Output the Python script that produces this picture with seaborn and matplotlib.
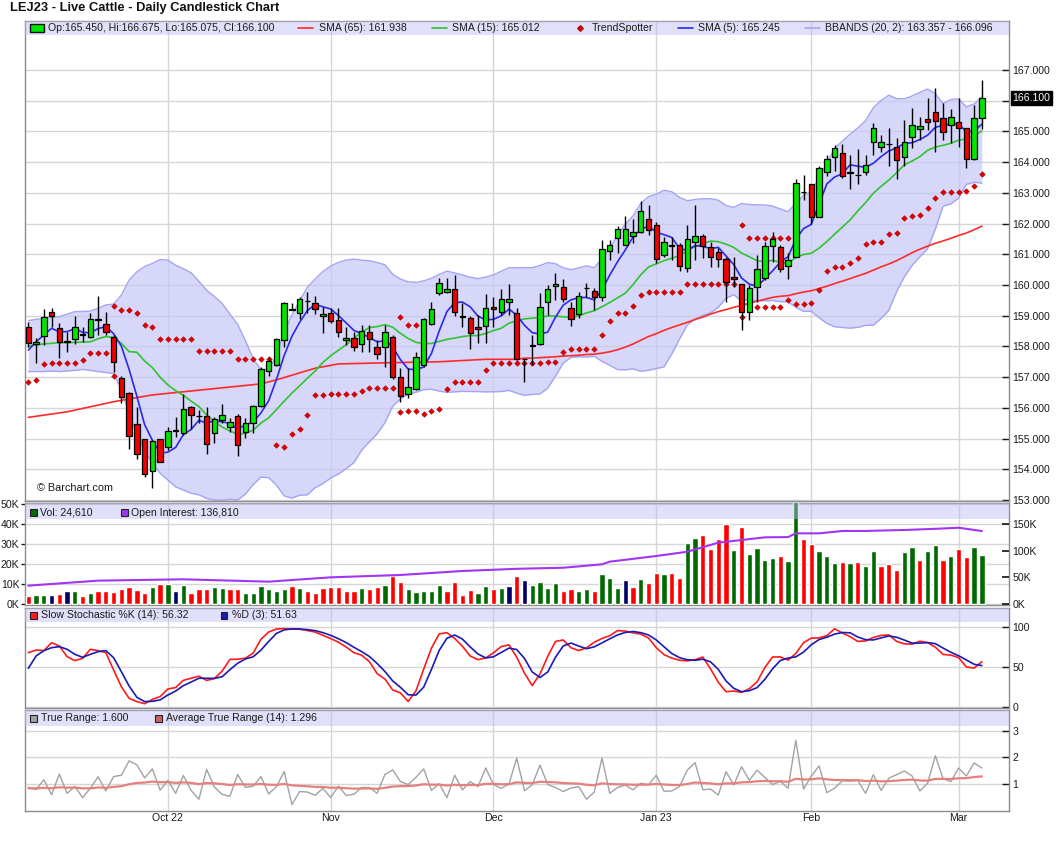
import numpy as np
import pandas as pd
import matplotlib
matplotlib.use("Agg")
import matplotlib.pyplot as plt
from matplotlib.patches import Rectangle
from matplotlib.lines import Line2D
from matplotlib.ticker import FuncFormatter
import seaborn as sns

# ------------------------------------------------------------------ data
month_bars = [19, 40, 61, 82, 102, 121]
month_labels = ["Oct 22", "Nov", "Dec", "Jan 23", "Feb", "Mar"]

bar_open = [
    158.64, 158.08, 158.35, 159.11, 158.61, 158.15, 158.23, 158.39, 158.30, 158.88,
    158.72, 158.32, 156.96, 156.47, 155.46, 154.97, 153.94, 154.97, 154.71, 155.27,
    155.17, 156.02, 155.74, 155.73, 155.17, 155.60, 155.39, 155.74, 155.20, 155.50,
    156.06, 157.19, 157.38, 158.21, 159.21, 159.08, 159.48, 159.42, 158.99, 159.10,
    158.86, 158.21, 158.28, 158.08, 158.46, 157.99, 157.97, 158.32, 156.99, 156.44,
    156.60, 157.39, 158.73, 159.73, 159.77, 159.86, 158.98, 158.91, 158.62, 158.66,
    159.29, 159.13, 159.45, 159.10, 157.58, 158.02, 158.08, 159.44, 159.97, 159.95,
    159.26, 159.04, 159.89, 159.81, 159.60, 161.12, 161.52, 161.29, 161.60, 161.74,
    162.16, 161.94, 160.97, 161.29, 161.29, 160.54, 161.39, 161.61, 161.23, 161.06,
    160.85, 160.25, 160.02, 159.11, 159.92, 160.22, 161.28, 161.23, 160.62, 160.92,
    163.03, 163.28, 162.20, 163.69, 164.18, 164.31, 163.66, 163.58, 163.67, 164.65,
    164.48, 164.58, 164.50, 164.16, 164.81, 165.08, 165.39, 165.62, 165.43, 165.21,
    165.30, 165.10, 164.09, 165.45]
bar_high = [
    158.81, 158.26, 159.21, 159.24, 158.77, 158.48, 158.99, 158.64, 159.10, 159.64,
    159.11, 158.37, 157.02, 156.53, 156.04, 154.99, 154.95, 154.99, 155.39, 155.71,
    156.44, 156.06, 155.93, 156.04, 155.71, 156.11, 155.66, 155.80, 155.66, 156.09,
    157.32, 157.65, 158.26, 159.46, 159.40, 159.60, 159.78, 159.64, 159.29, 159.24,
    159.24, 158.62, 158.48, 158.70, 158.70, 158.21, 158.70, 158.37, 157.29, 157.29,
    157.83, 158.91, 159.46, 160.22, 160.22, 160.32, 159.40, 158.99, 159.02, 159.70,
    159.62, 159.86, 160.02, 159.26, 157.60, 158.37, 159.73, 160.00, 160.38, 160.18,
    159.46, 159.78, 160.05, 159.89, 161.46, 161.46, 161.92, 162.25, 162.14, 162.73,
    162.60, 162.06, 161.57, 161.55, 161.38, 161.95, 162.61, 161.66, 161.41, 161.19,
    160.90, 160.92, 160.02, 160.00, 160.98, 161.41, 161.74, 161.30, 161.03, 163.44,
    163.58, 163.28, 163.88, 164.23, 164.56, 164.59, 164.23, 164.42, 164.23, 165.26,
    164.88, 165.10, 164.80, 165.37, 165.75, 165.46, 166.08, 166.40, 165.92, 165.72,
    166.08, 165.12, 165.86, 166.675]
bar_low = [
    157.97, 157.47, 158.05, 158.64, 157.61, 157.83, 158.08, 158.15, 158.26, 158.37,
    158.37, 157.18, 156.15, 154.66, 154.32, 153.76, 153.38, 154.22, 154.63, 155.06,
    155.12, 155.30, 155.50, 154.49, 154.87, 155.50, 155.22, 154.44, 155.01, 155.17,
    156.04, 157.02, 157.36, 157.99, 159.19, 158.88, 159.08, 159.06, 158.45, 158.75,
    158.32, 158.05, 157.86, 157.83, 157.83, 157.58, 157.34, 156.93, 156.20, 156.31,
    156.58, 157.34, 158.70, 159.67, 159.73, 158.99, 158.62, 157.90, 158.12, 158.10,
    158.64, 159.02, 159.02, 157.56, 156.85, 157.40, 158.05, 159.02, 159.51, 159.46,
    158.68, 158.91, 159.62, 159.19, 159.49, 160.81, 161.05, 161.29, 161.36, 161.70,
    161.63, 160.73, 160.90, 160.81, 160.47, 160.43, 160.81, 160.87, 160.60, 160.60,
    159.44, 159.95, 158.54, 158.86, 159.46, 160.16, 160.76, 160.41, 160.19, 160.92,
    162.77, 161.98, 162.20, 163.55, 163.72, 163.47, 163.12, 163.29, 163.58, 164.23,
    164.34, 163.88, 163.45, 163.88, 164.45, 164.72, 165.05, 164.34, 164.72, 164.63,
    164.48, 163.82, 164.07, 165.075]
bar_close = [
    158.10, 158.15, 158.97, 158.98, 158.15, 158.15, 158.64, 158.38, 158.88, 158.86,
    158.46, 157.48, 156.36, 155.08, 154.50, 153.85, 154.93, 154.25, 155.26, 155.26,
    155.95, 155.76, 155.73, 154.82, 155.63, 155.76, 155.55, 154.79, 155.50, 156.07,
    157.25, 157.54, 158.23, 159.42, 159.20, 159.53, 159.47, 159.21, 159.04, 158.84,
    158.47, 158.26, 157.99, 158.51, 158.23, 157.75, 158.46, 157.01, 156.39, 156.69,
    157.67, 158.88, 159.21, 160.07, 159.86, 159.11, 158.97, 158.43, 158.56, 159.24,
    159.21, 159.53, 159.53, 157.58, 157.58, 158.02, 159.29, 159.86, 160.02, 159.53,
    158.88, 159.65, 159.89, 159.62, 161.16, 161.29, 161.81, 161.81, 161.74, 162.42,
    161.79, 160.84, 161.40, 161.28, 160.63, 161.49, 161.61, 161.28, 160.90, 160.85,
    160.09, 160.19, 159.11, 159.89, 160.51, 161.28, 161.51, 160.51, 160.80, 163.33,
    163.03, 162.20, 163.80, 164.09, 164.45, 163.56, 163.66, 163.58, 163.91, 165.10,
    164.65, 164.58, 164.07, 164.65, 165.20, 165.17, 165.30, 165.35, 164.97, 165.46,
    165.10, 164.09, 165.43, 166.10]

volume_k = [
    4.2, 4.7, 4.7, 4.7, 5.2, 6.7, 6.7, 4.2, 5.7, 6.7,
    6.7, 6.2, 7.7, 8.7, 7.2, 5.7, 8.7, 10.2, 10.2, 6.7,
    9.7, 5.7, 7.7, 7.7, 8.7, 8.2, 7.7, 7.7, 5.7, 5.7,
    9.2, 7.7, 6.7, 7.7, 9.2, 8.2, 6.7, 5.7, 8.2, 8.7,
    8.7, 6.7, 6.7, 8.2, 7.7, 8.7, 9.7, 14.2, 11.2, 7.7,
    6.2, 6.7, 6.7, 9.7, 6.7, 11.2, 4.7, 7.2, 5.7, 9.2,
    7.7, 8.2, 9.2, 14.2, 12.2, 9.7, 11.2, 8.2, 10.7, 6.7,
    7.7, 6.7, 7.7, 6.7, 15.2, 13.2, 8.2, 12.2, 8.7, 12.7,
    10.7, 15.7, 15.2, 15.7, 13.2, 30.7, 33.2, 34.7, 27.7, 32.7,
    40.2, 27.2, 38.7, 25.2, 28.2, 22.2, 23.2, 24.2, 21.7, 55.0,
    32.7, 30.2, 26.7, 24.2, 20.7, 21.2, 20.7, 21.2, 19.2, 26.7,
    19.2, 20.2, 17.2, 26.2, 28.7, 22.2, 26.7, 29.7, 22.2, 24.2,
    27.7, 23.7, 28.7, 24.61]
volume_dir = ("rggnrngrgr" "rrrrrrgrgn" "grrrggrrgg" "ggggrgrrrr" "rrrgrrgrrg"
              "ggggrrrrgg" "rgnrnggggr" "rggrgggnrg" "rrgrrggrrr" "rgrggggrgg"
              "rrgggrgrgg" "rrrggrggrg" "rrgg")

oi_bar = [1, 10, 21, 32, 40, 49, 57, 64, 70, 75, 76, 82, 86, 90, 96, 99, 100,
          103, 106, 109, 114, 118, 121, 124]
oi_k = [34.4, 43.8, 46.3, 41.9, 50.0, 54.4, 61.9, 66.0, 68.0, 74.4, 79.4, 90.0,
        98.0, 115.0, 125.0, 125.5, 132.5, 132.5, 136.9, 137.0, 138.8, 141.0,
        143.0, 136.81]

# indicator values read for the first bars (window reaches before the chart)
sma5_head = [157.88, 158.15, 158.37, 158.59]
sma15_head = [158.01, 158.05, 158.08, 158.10, 158.12, 158.12, 158.13, 158.14,
              158.15, 158.25, 158.32, 158.29, 158.10, 157.83]
bb_up_head = [158.84, 158.88, 158.91, 158.94, 158.97, 159.05, 159.13, 159.14,
              159.15, 159.24, 159.35, 159.38, 159.67, 160.16, 160.43, 160.60,
              160.70, 160.83, 160.81]
bb_lo_head = [157.18, 157.18, 157.18, 157.20, 157.18, 157.20, 157.22, 157.25,
              157.22, 157.18, 157.15, 157.12, 156.58, 155.82, 155.17, 154.63,
              154.19, 153.87, 153.65]
sma65_head_bar = [1, 6, 12, 17, 24, 31, 33, 38, 41, 48, 54, 60, 64]
sma65_head = [155.69, 155.87, 156.20, 156.42, 156.60, 156.78, 156.91, 157.29,
              157.43, 157.47, 157.50, 157.58, 157.58]
slowk_head = [68.3, 71.6, 70.8, 80.8, 76.6, 63.3, 58.3, 61.2, 72.5, 70.8,
              68.3, 46.6, 25.8, 11.2, 7.1]
pctd_head = [48.7, 64.1, 70.8, 74.5, 75.8, 72.5, 66.2, 62.5, 66.2, 69.6,
             70.8, 62.0, 44.5, 26.6, 12.5, 7.1, 7.5]
tr_first = 0.88
atr_first = 0.84

ts_up_bar = list(range(12, 33)) + [49, 50, 51] + list(range(93, 100))
ts_up_val = [159.32, 159.19, 159.19, 159.08, 158.70, 158.62,
             158.23, 158.23, 158.23, 158.23, 158.23,
             157.85, 157.85, 157.85, 157.85, 157.85,
             157.58, 157.58, 157.58, 157.58, 157.58,
             158.95, 158.70, 158.70,
             161.94, 161.52, 161.52, 161.52, 161.52, 161.52, 161.52]
ts_lo_bar = (list(range(1, 13)) + list(range(33, 94)) + list(range(95, 125)))
ts_lo_val = [156.83, 156.91, 157.42, 157.45, 157.45, 157.45, 157.45, 157.56,
             157.77, 157.77, 157.77, 157.04,
             154.79, 154.73, 155.15, 155.30, 155.77, 156.41, 156.41, 156.44,
             156.44, 156.44, 156.44, 156.55, 156.64, 156.64, 156.64, 156.64,
             155.85, 155.90, 155.90, 155.79, 155.90, 155.95, 156.61, 156.85,
             156.85, 156.85, 156.85, 157.22, 157.45, 157.45, 157.45, 157.45,
             157.45, 157.45, 157.45, 157.48, 157.48, 157.83, 157.93, 157.93,
             157.93, 157.93, 158.36, 158.84, 159.08, 159.08, 159.33, 159.66,
             159.76, 159.76, 159.76, 159.76, 159.76, 160.02, 160.02, 160.02,
             160.02, 160.02, 160.02, 160.02, 158.95,
             159.27, 159.27, 159.27, 159.27, 159.51, 159.37, 159.37, 159.40,
             159.84, 160.45, 160.58, 160.58, 160.71, 160.87, 161.32, 161.39,
             161.39, 161.65, 161.68, 162.17, 162.25, 162.28, 162.50, 162.82,
             163.04, 163.04, 163.04, 163.06, 163.22, 163.60]

# ------------------------------------------------------------------ indicators
n = len(bar_close)
x = np.arange(1, n + 1)
o = np.array(bar_open); h = np.array(bar_high)
l = np.array(bar_low); c = np.array(bar_close)
cs = pd.Series(c)

sma5 = cs.rolling(5).mean().to_numpy(); sma5[:4] = sma5_head
sma15 = cs.rolling(15).mean().to_numpy(); sma15[:14] = sma15_head
mid20 = cs.rolling(20).mean(); sd20 = cs.rolling(20).std(ddof=0)
bb_up = (mid20 + 2 * sd20).to_numpy(); bb_up[:19] = bb_up_head
bb_lo = (mid20 - 2 * sd20).to_numpy(); bb_lo[:19] = bb_lo_head
sma65_full = cs.rolling(65).mean().to_numpy()
sma65_x = np.array(sma65_head_bar + list(range(65, n + 1)))
sma65_y = np.array(sma65_head + list(sma65_full[64:]))

ll14 = pd.Series(l).rolling(14).min(); hh14 = pd.Series(h).rolling(14).max()
fastk = 100 * (cs - ll14) / (hh14 - ll14)
slowk = fastk.rolling(3).mean().to_numpy(); slowk[:15] = slowk_head
pctd = pd.Series(slowk).rolling(3).mean().to_numpy(); pctd[:17] = pctd_head

prev = np.r_[np.nan, c[:-1]]
tr = np.maximum(h - l, np.maximum(np.abs(h - prev), np.abs(l - prev)))
tr[0] = tr_first
atr = np.zeros(n); atr[0] = atr_first
for i in range(1, n):
    atr[i] = (atr[i - 1] * 13 + tr[i]) / 14

# ------------------------------------------------------------------ figure
sns.set_theme(style="white")
plt.rcParams['font.family'] = ['Liberation Sans', 'DejaVu Sans']

W, H = 1060, 851
fig = plt.figure(figsize=(W / 100, H / 100), dpi=100)
fig.patch.set_facecolor('white')

def rect(x0, y0, x1, y1):
    return [x0 / W, 1 - y1 / H, (x1 - x0) / W, (y1 - y0) / H]

def fx(px):
    return px / W

def fy(py):
    return 1 - py / H

P = (20.7, 501.0); V = (503.0, 605.0); S = (608.0, 707.5); T = (710.0, 810.7)
ax_p = fig.add_axes(rect(25, P[0], 1009, P[1]))
ax_v = fig.add_axes(rect(25, V[0], 1009, V[1]))
ax_s = fig.add_axes(rect(25, S[0], 1009, S[1]))
ax_t = fig.add_axes(rect(25, T[0], 1009, T[1]))

GRID = '#d6d6d6'
TXT = '#1a1a1a'
FS = 7.6
XL = (0.57, 127.5)

for ax in (ax_p, ax_v, ax_s, ax_t):
    ax.set_facecolor('white')
    ax.set_xlim(*XL)
    ax.set_xticks(month_bars)
    ax.grid(True, color=GRID, lw=1, zorder=0)
    ax.set_axisbelow(True)
    for sp in ax.spines.values():
        sp.set_color('#8c8c8c'); sp.set_linewidth(1)
    ax.tick_params(axis='x', length=0, labelbottom=False)
    ax.yaxis.tick_right()
    ax.tick_params(axis='y', direction='in', length=5, width=1, pad=2.5,
                   labelsize=FS, colors=TXT, right=True, left=False)

def band(ax, top, bot, span):
    hh = (bot - top) / (span[1] - span[0])
    ax.add_patch(Rectangle((0, 1 - hh), 1, hh, transform=ax.transAxes,
                           facecolor='#bcbcf4', edgecolor='none', alpha=0.45,
                           zorder=9))

# ---- price panel
last_close = bar_close[-1]
ax_p.set_ylim(152.966, 168.605)
ax_p.set_yticks(np.arange(153, 168, 1))
# the 166.000 label sits under the last-price box in the reference
ax_p.yaxis.set_major_formatter(FuncFormatter(
    lambda v, p: "" if abs(v - last_close) < 0.35 else f"{v:.3f}"))

ax_p.fill_between(x, bb_lo, bb_up, color='#c8c8f8', alpha=0.72, lw=0, zorder=1)
sns.lineplot(x=x, y=bb_up, ax=ax_p, color='#a4a4f2', lw=1, zorder=2)
sns.lineplot(x=x, y=bb_lo, ax=ax_p, color='#a4a4f2', lw=1, zorder=2)
sns.lineplot(x=sma65_x, y=sma65_y, ax=ax_p, color='#ff2a2a', lw=1.2, zorder=3)
sns.lineplot(x=x, y=sma15, ax=ax_p, color='#2fc42f', lw=1.2, zorder=3)
sns.lineplot(x=x, y=sma5, ax=ax_p, color='#2a2ae6', lw=1.2, zorder=3)
sns.scatterplot(x=ts_up_bar, y=ts_up_val, ax=ax_p, marker='D', s=8,
                color='#e00000', edgecolor='#b00000', linewidth=0.4, zorder=4)
sns.scatterplot(x=ts_lo_bar, y=ts_lo_val, ax=ax_p, marker='D', s=8,
                color='#e00000', edgecolor='#b00000', linewidth=0.4, zorder=4)

up = c >= o
body_lo = np.minimum(o, c)
body_h = np.maximum(np.abs(c - o), 0.012)
ax_p.vlines(x, l, h, color='black', lw=1, zorder=5)
ax_p.bar(x, body_h, bottom=body_lo, width=0.7,
         color=np.where(up, '#00e600', '#f20000'), edgecolor='black',
         linewidth=0.9, zorder=6)
band(ax_p, P[0], 35.0, P)

# ---- volume panel
vcol = {'g': '#006a00', 'r': '#ff0000', 'n': '#000066'}
ax_v.bar(x, volume_k, width=0.68, color=[vcol[d] for d in volume_dir], zorder=3)
ax_v.set_ylim(-0.5, 50.5)
ax_v.set_yticks([0, 10, 20, 30, 40, 50])
ax_v.yaxis.set_major_formatter(FuncFormatter(lambda v, p: f"{int(v)}K"))
ax_v.yaxis.tick_left()
ax_v.tick_params(axis='y', direction='out', length=3, pad=1, left=True,
                 right=False, labelleft=True, labelright=False,
                 labelsize=FS, colors=TXT)
ax_oi = ax_v.twinx()
ax_oi.set_xlim(*XL)
ax_oi.set_ylim(-1.875, 189.4)
sns.lineplot(x=oi_bar, y=oi_k, ax=ax_oi, color='#a235f2', lw=1.5, zorder=4)
ax_oi.set_yticks([0, 50, 100, 150])
ax_oi.yaxis.set_major_formatter(FuncFormatter(lambda v, p: f"{int(v)}K"))
ax_oi.tick_params(axis='y', direction='in', length=5, pad=2.5, labelsize=FS,
                  colors=TXT)
for sp in ax_oi.spines.values():
    sp.set_visible(False)
ax_oi.set_ylabel('')
band(ax_oi, V[0], 519.0, V)

# ---- stochastic panel
ax_s.set_ylim(-0.25, 124.1)
ax_s.set_yticks([0, 50, 100])
sns.lineplot(x=x, y=slowk, ax=ax_s, color='#ff1a1a', lw=1.2, zorder=3)
sns.lineplot(x=x, y=pctd, ax=ax_s, color='#1a1ab4', lw=1.2, zorder=3)
band(ax_s, S[0], 622.0, S)

# ---- true range panel
ax_t.set_ylim(0, 3.776)
ax_t.set_yticks([1, 2, 3])
ax_t.yaxis.set_major_formatter(FuncFormatter(lambda v, p: f"{int(v)}"))
sns.lineplot(x=x, y=tr, ax=ax_t, color='#a2a2a2', lw=1, zorder=3)
sns.lineplot(x=x, y=atr, ax=ax_t, color='#e58080', lw=1.6, zorder=4)
band(ax_t, T[0], 725.5, T)
ax_t.set_xticks(month_bars)
ax_t.set_xticklabels(month_labels)
ax_t.tick_params(axis='x', length=0, pad=1.5, labelbottom=True, labelsize=FS,
                 colors=TXT)

for ax in (ax_p, ax_v, ax_s, ax_t, ax_oi):
    ax.set_xlabel(''); ax.set_ylabel('')

# ------------------------------------------------------------------ texts / legends
def fig_box(x0, y0, x1, y1, fc, ec='#222222', lw=0.8):
    fig.add_artist(Rectangle((fx(x0), fy(y1)), (x1 - x0) / W, (y1 - y0) / H,
                             transform=fig.transFigure, facecolor=fc,
                             edgecolor=ec, linewidth=lw, zorder=20))

def fig_line(x0, x1, y, col, lw=1.2):
    fig.add_artist(Line2D([fx(x0), fx(x1)], [fy(y), fy(y)],
                          transform=fig.transFigure, color=col, lw=lw, zorder=20))

def ftxt(px, py, s, **kw):
    kw.setdefault('fontsize', FS)
    kw.setdefault('color', TXT)
    fig.text(fx(px), fy(py), s, va='center', ha='left', zorder=21, **kw)

ftxt(10, 8.5, "LEJ23 - Live Cattle - Daily Candlestick Chart",
     fontsize=9.3, fontweight='bold', color='#111111')

# price legend
fig_box(29.5, 24.5, 44, 31.5, '#00e600', ec='#111111', lw=1)
ftxt(48, 28, "Op:165.450, Hi:166.675, Lo:165.075, Cl:166.100")
fig_line(298, 313, 28, '#ff2a2a')
ftxt(319, 28, "SMA (65): 161.938")
fig_line(432, 447, 28, '#2fc42f')
ftxt(452, 28, "SMA (15): 165.012")
fig.add_artist(Line2D([fx(580)], [fy(28)], transform=fig.transFigure,
                      marker='D', markersize=2.8, color='#e00000',
                      markeredgecolor='#b00000', lw=0, zorder=20))
ftxt(592, 28, "TrendSpotter")
fig_line(678, 693, 28, '#2a2ae6')
ftxt(698, 28, "SMA (5): 165.245")
fig_line(805, 820, 28, '#a4a4f2')
ftxt(825, 28, "BBANDS (20, 2): 163.357 - 166.096")

# last price box
ftxt(1012.5, 98, "166.100", color='white', fontsize=FS,
     bbox=dict(boxstyle='square,pad=0.15', facecolor='black', edgecolor='black'))

ftxt(37, 488, "\u00a9 Barchart.com", fontsize=FS + 0.2)

# volume legend
fig_box(29.5, 509, 36.5, 516, '#006a00')
ftxt(40, 512.5, "Vol: 24,610")
fig_box(121, 509, 128, 516, '#a235f2')
ftxt(131, 512.5, "Open Interest: 136,810")

# stochastic legend
fig_box(30, 612, 36.5, 618.5, '#ff1a1a')
ftxt(41, 615.5, "Slow Stochastic %K (14): 56.32")
fig_box(220.5, 612, 227, 618.5, '#1a1ab4')
ftxt(232, 615.5, "%D (3): 51.63")

# true range legend
fig_box(30, 715, 36.5, 721.5, '#a2a2a2')
ftxt(41, 718.3, "True Range: 1.600")
fig_box(155, 715, 161.5, 721.5, '#c86464')
ftxt(166.5, 718.3, "Average True Range (14): 1.296")

fig.savefig("out.png", dpi=100, facecolor='white')
